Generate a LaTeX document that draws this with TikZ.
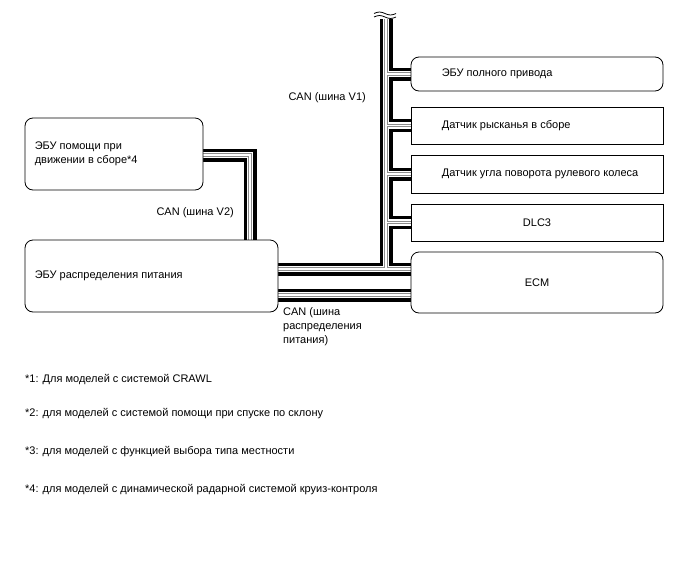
\documentclass[tikz,border=0pt]{standalone}
\usepackage{fontspec}
\setmainfont{Liberation Sans}
\usetikzlibrary{positioning,backgrounds}

\begin{document}
\begin{tikzpicture}[
    x=1pt, y=-1pt,
    every node/.style={font=\fontsize{11}{14}\selectfont},
    ecu/.style={draw=black, fill=white, rounded corners=8pt, line width=0.8pt, inner sep=0pt},
    sensor/.style={draw=black, fill=white, line width=0.8pt, inner sep=0pt},
    txt/.style={inner sep=0pt, align=left},
    bus/.style={draw=white, line width=1.5pt,
        preaction={draw=black!45, line width=3.5pt,
            preaction={draw=white, line width=6.5pt,
                preaction={draw=black, line width=13pt}}}}
]
    \useasboundingbox (0,0) rectangle (688,560);

    % Units on the V1 bus
    \node[ecu, minimum width=252pt, minimum height=34pt] (awd) at (537,74) {};
    \node[sensor, minimum width=252pt, minimum height=37pt] (yaw) at (537,125.5) {};
    \node[sensor, minimum width=252pt, minimum height=38pt] (steer) at (537,174) {};
    \node[sensor, minimum width=252pt, minimum height=37pt] (dlc) at (537,222.5) {DLC3};
    \node[ecu, minimum width=252pt, minimum height=61pt] (ecm) at (537,282.5) {ECM};

    \node[txt, right=31pt of awd.west] (awdtext) {ЭБУ полного привода};
    \node[txt, right=31pt of yaw.west] (yawtext) {Датчик рысканья в сборе};
    \node[txt, right=31pt of steer.west] (steertext) {Датчик угла поворота рулевого колеса};

    % Left side units
    \node[ecu, minimum width=178pt, minimum height=72pt] (assist) at (114,154) {};
    \node[ecu, minimum width=253pt, minimum height=72pt] (dist) at (151.5,276) {};

    \node[txt, right=10pt of assist.west] (assisttext) {ЭБУ помощи при\\движении в сборе*4};
    \node[txt, right=10pt of dist.west] (disttext) {ЭБУ распределения питания};

    % Bus points
    \coordinate (v1top) at (386,19);
    \coordinate (v1bot) at (386,269);
    \coordinate (v2) at (250,155);
    \coordinate (pwrbus) at (344,295);

    % Buses
    \begin{scope}[on background layer]
        \draw[bus] (v1top) -- (v1bot)
            (dist.east |- v1bot) -- (ecm.west |- v1bot)
            (v1top |- awd.west) -- (awd.west)
            (v1top |- yaw.west) -- (yaw.west)
            (v1top |- steer.west) -- (steer.west)
            (v1top |- dlc.west) -- (dlc.west);
        \draw[bus] (assist.east |- v2) -- (v2) -- (v2 |- dist.north);
        \draw[bus] (dist.east |- pwrbus) -- (ecm.west |- pwrbus);
    \end{scope}

    % Break mark on the V1 trunk
    \draw[line width=0.8pt] (374,13.5) sin (379.5,12) cos (385,13.5) sin (390.5,15) cos (396,13.5);
    \draw[line width=0.8pt] (374,17) sin (379.5,15.5) cos (385,17) sin (390.5,18.5) cos (396,17);

    % Bus labels
    \node[txt, anchor=east] (v1label) at (366,98) {CAN (шина V1)};
    \node[txt, anchor=east] (v2label) at (234,213) {CAN (шина V2)};
    \node[txt, anchor=north west] (pwrlabel) at (283,307) {CAN (шина\\распределения\\питания)};

    % Notes
    \node[txt, anchor=west] (note1) at (25,380) {*1: Для моделей с системой CRAWL};
    \node[txt, anchor=west] (note2) at (25,414) {*2: для моделей с системой помощи при спуске по склону};
    \node[txt, anchor=west] (note3) at (25,452) {*3: для моделей с функцией выбора типа местности};
    \node[txt, anchor=west] (note4) at (25,490) {*4: для моделей с динамической радарной системой круиз-контроля};

\end{tikzpicture}
\end{document}
